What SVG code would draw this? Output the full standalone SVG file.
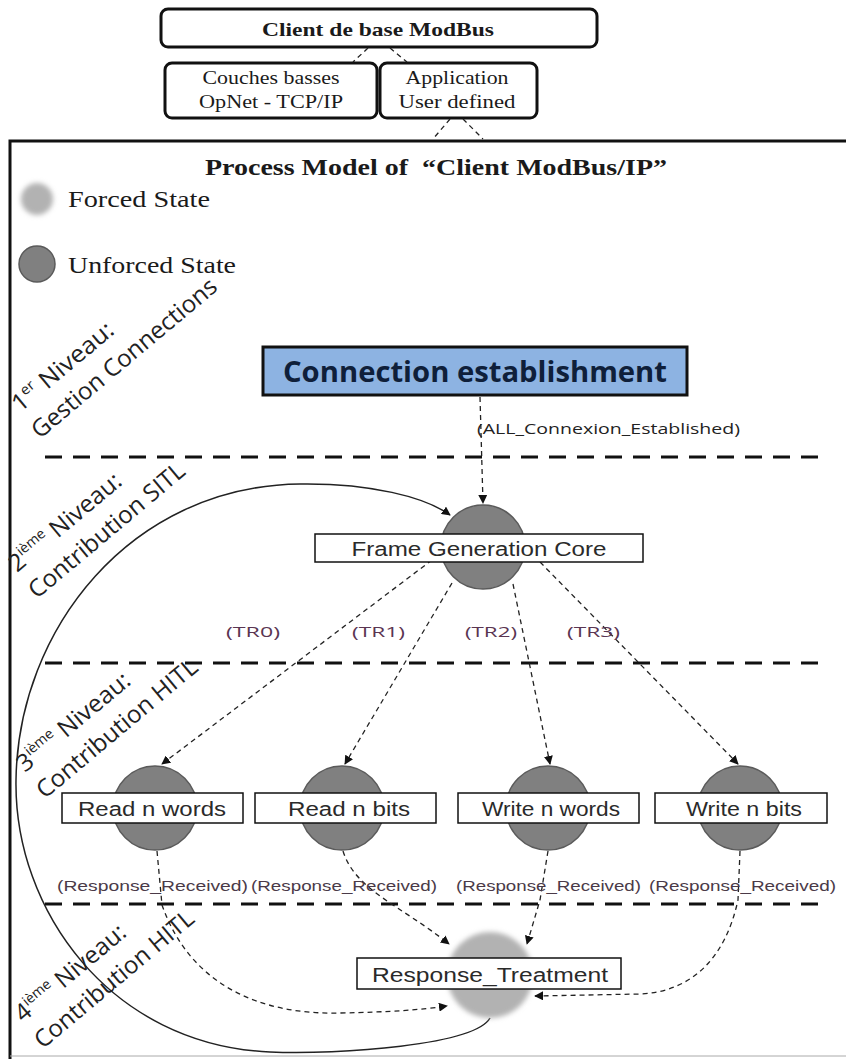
<svg xmlns="http://www.w3.org/2000/svg" width="846" height="1059" viewBox="0 0 846 1059">
<defs>
<style>
.serif{font-family:"Liberation Serif","Times New Roman",serif;fill:#1a1a1a}
.cal{font-family:"Open Sans","Noto Sans",sans-serif}
.ari{font-family:"Liberation Sans",Arial,sans-serif}
.box{fill:#fff;stroke:#111;stroke-width:3}
.lbl{fill:#fff;stroke:#111;stroke-width:1.5}
.unf{fill:#808080;stroke:#5a5a5a;stroke-width:1.5}
.frc{fill:#b2b2b2}
.lvl{stroke:#111;stroke-width:3;stroke-dasharray:17 11;fill:none}
.dash{stroke:#222;stroke-width:1.3;stroke-dasharray:5 4;fill:none}
.solid{stroke:#222;stroke-width:1.5;fill:none}
.rot{font-family:"Open Sans","Noto Sans",sans-serif;font-size:24px;fill:#222}
.tr{font-family:"Open Sans","Noto Sans",sans-serif;font-size:15px;fill:#5a3552}
.rr{font-family:"Liberation Sans",Arial,sans-serif;font-size:15px;fill:#4a3a48}
.st{font-family:"Liberation Sans",Arial,sans-serif;font-size:20px;fill:#2a2a2a}
</style>
<filter id="blur" x="-30%" y="-30%" width="160%" height="160%"><feGaussianBlur stdDeviation="2.5"/></filter>
<marker id="ah" viewBox="0 0 10 10" refX="9" refY="5" markerWidth="9" markerHeight="9" markerUnits="userSpaceOnUse" orient="auto"><path d="M0,0 L10,5 L0,10 z" fill="#111"/></marker>
</defs>
<rect width="846" height="1059" fill="#fff"/>

<!-- top hierarchy -->
<g id="client-base">
<rect class="box" x="161" y="9" width="436" height="38" rx="7"/>
<text class="serif" x="378" y="36" font-size="19" font-weight="bold" text-anchor="middle" textLength="232" lengthAdjust="spacingAndGlyphs">Client de base ModBus</text>
</g>
<g id="couches-basses">
<rect class="box" x="165" y="63" width="212" height="55" rx="7"/>
<text class="serif" x="271" y="84" font-size="18" text-anchor="middle" textLength="137" lengthAdjust="spacingAndGlyphs">Couches basses</text>
<text class="serif" x="271" y="108" font-size="18" text-anchor="middle" textLength="144" lengthAdjust="spacingAndGlyphs">OpNet - TCP/IP</text>
</g>
<g id="application">
<rect class="box" x="380" y="63" width="157" height="55" rx="7"/>
<text class="serif" x="457" y="84" font-size="18" text-anchor="middle" textLength="103" lengthAdjust="spacingAndGlyphs">Application</text>
<text class="serif" x="457" y="108" font-size="18" text-anchor="middle" textLength="117" lengthAdjust="spacingAndGlyphs">User defined</text>
</g>

<!-- frame -->
<g id="frame">
<path d="M10,1059 L10,141 L846,141" fill="none" stroke="#111" stroke-width="3"/>
<line x1="10" y1="1056" x2="846" y2="1056" stroke="#aaa" stroke-width="1"/>
<text class="serif" x="205" y="175" font-size="23" font-weight="bold" textLength="462" lengthAdjust="spacingAndGlyphs" xml:space="preserve">Process Model of  “Client ModBus/IP”</text>
</g>

<!-- legend -->
<g id="legend-forced">
<circle class="frc" cx="37" cy="199" r="16" filter="url(#blur)"/>
<text class="serif" x="68" y="207" font-size="24" textLength="142" lengthAdjust="spacingAndGlyphs">Forced State</text>
</g>
<g id="legend-unforced">
<circle class="unf" cx="37" cy="264" r="18" stroke-width="2.5"/>
<text class="serif" x="68" y="273" font-size="24" textLength="168" lengthAdjust="spacingAndGlyphs">Unforced State</text>
</g>

<!-- level separators -->
<g id="levels">
<line class="lvl" x1="45" y1="457" x2="822" y2="457"/>
<line class="lvl" x1="45" y1="663" x2="822" y2="663"/>
<line class="lvl" x1="45" y1="904" x2="822" y2="904"/>
</g>

<!-- level labels -->
<g id="level1-label" transform="translate(20,413) rotate(-40)">
<text class="rot" x="0" y="0" textLength="125" lengthAdjust="spacingAndGlyphs">1<tspan font-size="14" dy="-10">er</tspan><tspan dy="10"> Niveau:</tspan></text>
<text class="rot" x="-2" y="33" textLength="234" lengthAdjust="spacingAndGlyphs">Gestion Connections</text>
</g>
<g id="level2-label" transform="translate(17,573) rotate(-40)">
<text class="rot" x="0" y="0" textLength="139" lengthAdjust="spacingAndGlyphs">2<tspan font-size="14" dy="-10">ième</tspan><tspan dy="10"> Niveau:</tspan></text>
<text class="rot" x="-2" y="33" textLength="196" lengthAdjust="spacingAndGlyphs">Contribution SITL</text>
</g>
<g id="level3-label" transform="translate(25,773) rotate(-40)">
<text class="rot" x="0" y="0" textLength="140" lengthAdjust="spacingAndGlyphs">3<tspan font-size="14" dy="-10">ième</tspan><tspan dy="10"> Niveau:</tspan></text>
<text class="rot" x="-2" y="33" textLength="202" lengthAdjust="spacingAndGlyphs">Contribution HITL</text>
</g>
<g id="level4-label" transform="translate(23,1023) rotate(-40)">
<text class="rot" x="0" y="0" textLength="137" lengthAdjust="spacingAndGlyphs">4<tspan font-size="14" dy="-10">ième</tspan><tspan dy="10"> Niveau:</tspan></text>
<text class="rot" x="-2" y="33" textLength="200" lengthAdjust="spacingAndGlyphs">Contribution HITL</text>
</g>

<!-- connectors -->
<g id="connectors">
<path class="dash" d="M480,397 L483,503" marker-end="url(#ah)"/>
<path class="dash" d="M432,560 L162,764" marker-end="url(#ah)"/>
<path class="dash" d="M452,583 L345,764" marker-end="url(#ah)"/>
<path class="dash" d="M513,584 L550,764" marker-end="url(#ah)"/>
<path class="dash" d="M540,562 L738,764" marker-end="url(#ah)"/>
<path class="dash" d="M157,851 L162,905 C190,985 260,1015 340,1013 C390,1012 420,1010 447,1006" marker-end="url(#ah)"/>
<path class="dash" d="M343,851 C355,890 400,905 449,944" marker-end="url(#ah)"/>
<path class="dash" d="M548,851 L540,900 L527,944" marker-end="url(#ah)"/>
<path class="dash" d="M740,851 L738,900 C725,960 690,992 640,994 L535,996" marker-end="url(#ah)"/>
<path class="solid" d="M490,1018 C475,1045 340,1055 270,1052 C110,1045 14,910 16,780 C18,630 130,486 300,484 C370,483 425,497 450,515" marker-end="url(#ah)"/>
<text class="cal" x="477" y="434" font-size="15" fill="#222" textLength="263" lengthAdjust="spacingAndGlyphs">(ALL_Connexion_Established)</text>
<text class="tr" x="226" y="637" textLength="54" lengthAdjust="spacingAndGlyphs">(TR0)</text>
<text class="tr" x="352" y="637" textLength="53" lengthAdjust="spacingAndGlyphs">(TR1)</text>
<text class="tr" x="465" y="637" textLength="52" lengthAdjust="spacingAndGlyphs">(TR2)</text>
<text class="tr" x="567" y="637" textLength="53" lengthAdjust="spacingAndGlyphs">(TR3)</text>
<text class="rr" x="57" y="891" textLength="191" lengthAdjust="spacingAndGlyphs">(Response_Received)</text>
<text class="rr" x="251" y="891" textLength="186" lengthAdjust="spacingAndGlyphs">(Response_Received)</text>
<text class="rr" x="456" y="891" textLength="185" lengthAdjust="spacingAndGlyphs">(Response_Received)</text>
<text class="rr" x="649" y="891" textLength="187" lengthAdjust="spacingAndGlyphs">(Response_Received)</text>
<path class="dash" d="M368,48 L353,62 M390,48 L407,62 M450,119 L433,139 M463,119 L483,139"/>
</g>

<!-- states -->
<g id="connection-establishment">
<rect x="263" y="347" width="424" height="48" fill="#8db3e2" stroke="#111" stroke-width="3"/>
<text class="cal" x="475" y="382" font-size="28" font-weight="bold" fill="#0f1f3a" text-anchor="middle" textLength="384" lengthAdjust="spacingAndGlyphs">Connection establishment</text>
</g>
<g id="frame-generation-core">
<circle class="unf" cx="483" cy="547" r="42"/>
<rect class="lbl" x="315" y="534" width="328" height="28"/>
<text class="st" x="479" y="556" text-anchor="middle" textLength="255" lengthAdjust="spacingAndGlyphs">Frame Generation Core</text>
</g>
<g id="read-n-words">
<circle class="unf" cx="155" cy="808" r="42"/>
<rect class="lbl" x="62" y="793" width="181" height="30"/>
<text class="st" x="152" y="816" text-anchor="middle" textLength="148" lengthAdjust="spacingAndGlyphs">Read n words</text>
</g>
<g id="read-n-bits">
<circle class="unf" cx="342" cy="808" r="42"/>
<rect class="lbl" x="255" y="793" width="181" height="30"/>
<text class="st" x="349" y="816" text-anchor="middle" textLength="122" lengthAdjust="spacingAndGlyphs">Read n bits</text>
</g>
<g id="write-n-words">
<circle class="unf" cx="548" cy="808" r="42"/>
<rect class="lbl" x="458" y="793" width="181" height="30"/>
<text class="st" x="551" y="816" text-anchor="middle" textLength="138" lengthAdjust="spacingAndGlyphs">Write n words</text>
</g>
<g id="write-n-bits">
<circle class="unf" cx="740" cy="808" r="42"/>
<rect class="lbl" x="655" y="793" width="172" height="30"/>
<text class="st" x="744" y="816" text-anchor="middle" textLength="116" lengthAdjust="spacingAndGlyphs">Write n bits</text>
</g>
<g id="response-treatment">
<circle class="frc" cx="490" cy="975" r="43" filter="url(#blur)"/>
<rect class="lbl" x="357" y="958" width="264" height="31"/>
<text class="st" x="490" y="982" text-anchor="middle" textLength="236" lengthAdjust="spacingAndGlyphs">Response_Treatment</text>
</g>
</svg>
